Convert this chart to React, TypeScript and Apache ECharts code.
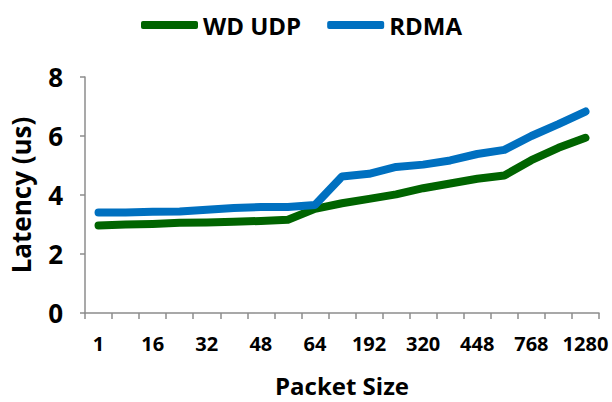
import React, { useEffect, useRef } from "react";
import * as echarts from "echarts";

const categories = ["1", "8", "16", "24", "32", "40", "48", "56", "64", "128", "192", "256", "320", "384", "448", "512", "768", "1024", "1280"];
const wdUdp = [2.97, 3.0, 3.02, 3.06, 3.07, 3.09, 3.12, 3.16, 3.53, 3.72, 3.87, 4.02, 4.23, 4.39, 4.55, 4.66, 5.18, 5.6, 5.94];
const rdma = [3.41, 3.41, 3.43, 3.44, 3.5, 3.56, 3.59, 3.59, 3.66, 4.63, 4.72, 4.95, 5.03, 5.17, 5.39, 5.53, 6.0, 6.4, 6.83];
const yTicks = [0, 2, 4, 6, 8];

const FONT = "'Open Sans', 'Noto Sans', sans-serif";

export default function App() {
  const ref = useRef<HTMLDivElement>(null);
  useEffect(() => {
    if (!ref.current) return;
    const chart = echarts.init(ref.current, null, { renderer: "svg" });
    chart.setOption({
      animation: false,
      backgroundColor: "#ffffff",
      legend: {
        top: 8,
        left: 136,
        itemWidth: 57,
        itemHeight: 8,
        itemGap: 26,
        icon: "roundRect",
        textStyle: { fontFamily: FONT, fontWeight: "bold", fontSize: 24, color: "#000", padding: [0, 0, 0, 0] },
        data: ["WD UDP", "RDMA"],
      },
      grid: { left: 84, right: 13, top: 77, bottom: 85 },
      xAxis: {
        type: "category",
        data: categories,
        boundaryGap: true,
        name: "Packet Size",
        nameLocation: "middle",
        nameGap: 60,
        nameTextStyle: { fontFamily: FONT, fontWeight: "bold", fontSize: 24, color: "#000" },
        axisLine: { lineStyle: { color: "#8c8c8c", width: 1.5 } },
        axisTick: { show: true, interval: 0, length: 6, lineStyle: { color: "#8c8c8c", width: 1.5 } },
        axisLabel: { interval: 1, margin: 20, fontFamily: FONT, fontWeight: "bold", fontSize: 20, color: "#000" },
        splitLine: { show: false },
      },
      yAxis: {
        type: "value",
        min: yTicks[0],
        max: yTicks[yTicks.length - 1],
        interval: 2,
        name: "Latency (us)",
        nameLocation: "middle",
        nameGap: 51,
        nameTextStyle: { fontFamily: FONT, fontWeight: "bold", fontSize: 26, color: "#000" },
        axisLine: { show: true, lineStyle: { color: "#8c8c8c", width: 1.5 } },
        axisTick: { show: true, length: 5, lineStyle: { color: "#8c8c8c", width: 1.5 } },
        axisLabel: { margin: 22, fontFamily: FONT, fontWeight: "bold", fontSize: 26, color: "#000" },
        splitLine: { show: false },
      },
      series: [
        {
          name: "WD UDP",
          type: "line",
          data: wdUdp,
          symbol: "none",
          color: "#006400",
          lineStyle: { width: 8, color: "#006400", cap: "round", join: "round" },
        },
        {
          name: "RDMA",
          type: "line",
          data: rdma,
          symbol: "none",
          color: "#0070C0",
          lineStyle: { width: 8, color: "#0070C0", cap: "round", join: "round" },
        },
      ],
    });
    return () => chart.dispose();
  }, []);
  return <div ref={ref} style={{ width: 612, height: 402, position: "absolute", left: 0, top: 0 }} />;
}
